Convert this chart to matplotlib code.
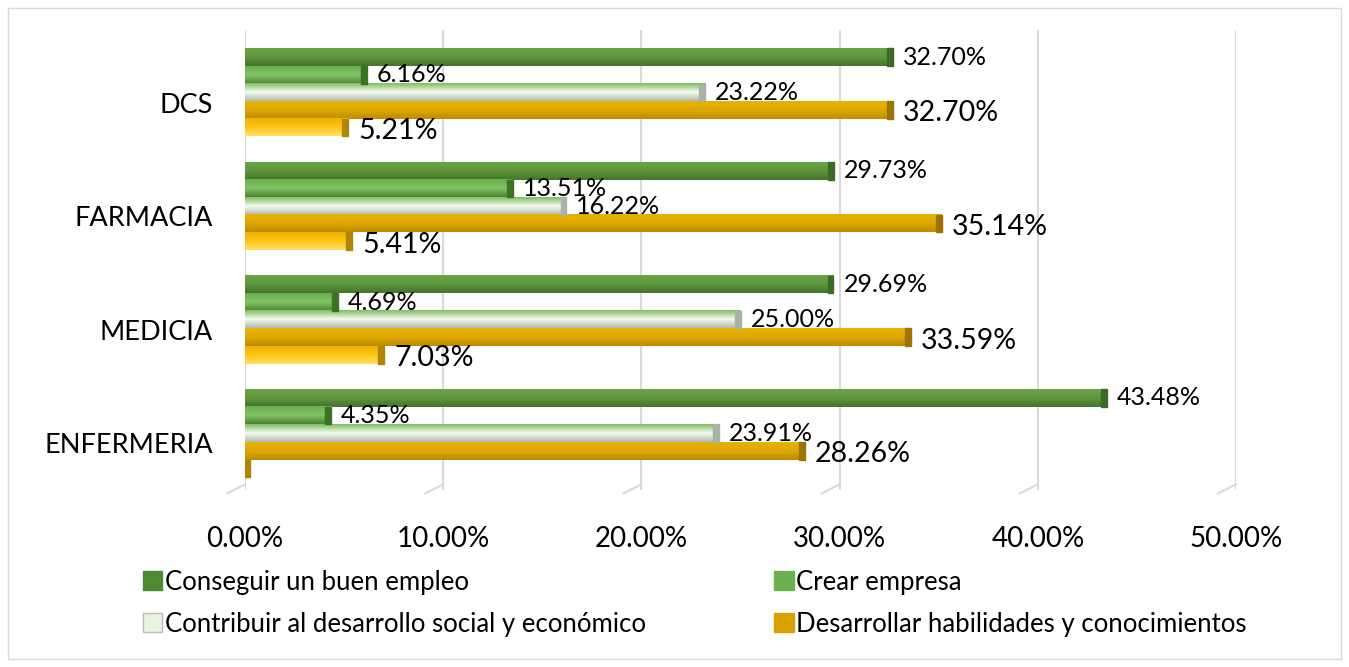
import numpy as np
import matplotlib
matplotlib.use("Agg")
import matplotlib.pyplot as plt
from matplotlib.patches import Patch, Rectangle
from matplotlib.colors import LinearSegmentedColormap

# ========== ДАННЫЕ ==========
categories = ["ENFERMERIA", "MEDICIA", "FARMACIA", "DCS"]
series_names = [
    "Conseguir un buen empleo",
    "Crear empresa",
    "Contribuir al desarrollo social y económico",
    "Desarrollar habilidades y conocimientos",
    "Otro",
]
empleo = [43.48, 29.69, 29.73, 32.70]
empresa = [4.35, 4.69, 13.51, 6.16]
contribuir = [23.91, 25.00, 16.22, 23.22]
habilidades = [28.26, 33.59, 35.14, 32.70]
otro = [0.0, 7.03, 5.41, 5.21]
xticks = [0, 10, 20, 30, 40, 50]

series = [empleo, empresa, contribuir, habilidades, otro]
in_legend = [True, True, True, True, False]

# gradient colours: (top, middle, bottom), edge, label size
grad = [
    ("#46722c", "#5e963c", "#6aa548"),
    ("#4b8231", "#82c465", "#6aad4c"),
    ("#b3b9ae", "#f4faf0", "#7fbd5e"),
    ("#bd8c00", "#dfa800", "#e8b200"),
    ("#ffe066", "#ffc515", "#f0b000"),
]
edge = ["#3e6a27", "#3f7028", "#a9b3a4", "#9c7400", "#b08600"]
legend_col = ["#4e8a32", "#6db04f", "#e8f4e0", "#d9a000"]
label_size = [18, 18, 18, 20.5, 20.5]
label_dy = [0, 0, 0, -0.03, -0.03]

FONT = ["Lato", "DejaVu Sans"]
plt.rcParams["font.family"] = FONT

fig = plt.figure(figsize=(13.49, 6.67), dpi=100)
ax = fig.add_axes([0.1816, 0.2654, 0.7347, 0.6896])

h = 0.155
y = np.arange(len(categories))
for i, vals in enumerate(series):
    pos = y + (2 - i) * h
    bars = ax.barh(pos, vals, height=h, color=grad[i][1], edgecolor="none", zorder=3)
    cmap = LinearSegmentedColormap.from_list("g%d" % i, [grad[i][0], grad[i][1], grad[i][2]])
    g = np.linspace(0, 1, 64).reshape(-1, 1)
    for b, v in zip(bars, vals):
        x0, y0 = b.get_x(), b.get_y()
        w, hh = b.get_width(), b.get_height()
        if w <= 0:
            # pequeño resto 3D de la barra vacía
            ax.add_patch(Rectangle((x0, y0), 0.25, hh, color=edge[i], zorder=4))
            continue
        ax.imshow(g, cmap=cmap, extent=[x0, x0 + w, y0 + hh, y0], aspect="auto",
                  zorder=3, interpolation="bilinear")
        ax.add_patch(Rectangle((x0 + w - 0.3, y0), 0.3, hh, color=edge[i], zorder=4))
        ax.text(v + 0.5, y0 + hh / 2 + label_dy[i], f"{v:.2f}%", va="center", ha="left",
                fontsize=label_size[i], color="#000000", zorder=6)

ax.set_xlim(0, 50)
ax.set_ylim(-0.5, 3.55)
ax.set_xticks(xticks)
ax.set_xticklabels([f"{t:.2f}%" for t in xticks], fontsize=20)
ax.set_yticks(y - 0.09)
ax.set_yticklabels(categories, fontsize=19.5)
ax.tick_params(axis="both", length=0)
ax.tick_params(axis="x", pad=26)
ax.tick_params(axis="y", pad=23)
ax.grid(axis="x", color="#d9d9d9", linewidth=1.5, zorder=0)
for s in ax.spines.values():
    s.set_visible(False)

# suelo en perspectiva
for t in xticks:
    ax.plot([t, t - 0.9], [-0.45, -0.53], color="#d9d9d9", linewidth=1.5,
            clip_on=False, zorder=0)

handles = [Patch(facecolor=c, edgecolor="#bcbcbc" if k == 2 else c, label=n)
           for k, (c, n, show) in enumerate(zip(legend_col, series_names, in_legend)) if show]
order = [0, 2, 1, 3]
fig.legend(handles=[handles[k] for k in order], ncol=2, loc="upper left",
           bbox_to_anchor=(0.106, 0.146), frameon=False, fontsize=18.5,
           handlelength=0.75, handleheight=0.75, handletextpad=0.1,
           columnspacing=5.0, labelspacing=0.66, borderpad=0, borderaxespad=0)

fig.patches.append(Rectangle((0.006, 0.012), 0.988, 0.976, transform=fig.transFigure,
                             fill=False, edgecolor="#d9d9d9", linewidth=1))

fig.savefig("out.png", dpi=100)
